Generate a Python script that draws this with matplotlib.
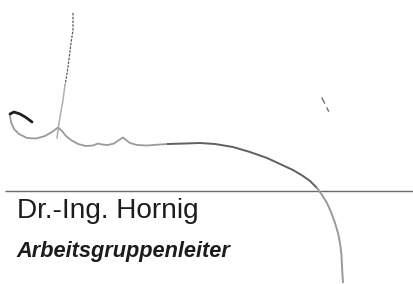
import matplotlib
matplotlib.use("Agg")
import matplotlib.pyplot as plt

# signature strokes, in pixel coordinates of the 413x284 image (y downwards)
hook_x = [10, 14, 20, 26, 32]
hook_y = [114, 112, 114, 117.5, 122]

stem_top_x = [73, 73, 71, 69.5, 68, 66.5, 65]
stem_top_y = [13, 30, 43, 55, 67, 77, 85]
stem_low_x = [65, 63, 60, 58, 57]
stem_low_y = [85, 100, 117, 130, 138]

loop_x = [10, 11, 14, 19, 27, 36, 45, 52, 58, 62, 66, 71, 78, 86, 93, 98,
          102, 108, 114, 119, 123, 126, 130, 137, 147, 160, 168]
loop_y = [115, 122, 129, 134, 138, 138.5, 136, 132, 127.5, 131, 136, 140,
          144, 146, 145.5, 143.5, 144.5, 145, 143.5, 140, 137.5, 140, 143,
          145, 145.5, 144.5, 144]

arc_x = [168, 185, 200, 215, 233, 250, 267, 280, 293, 303, 310, 317]
arc_y = [144, 143.5, 143, 144, 147, 152, 158, 164, 170, 176, 181, 188]

tail_x = [317, 322, 327, 331, 335, 338, 340, 341.5, 342, 342.5, 343]
tail_y = [188, 195, 203, 212, 223, 233, 243, 255, 267, 275, 282]

tick_x = [[322, 324.5], [327, 328.5]]
tick_y = [[98, 103], [108, 111]]

rule_x = [5, 413]
rule_y = [191, 191]

name = "Dr.-Ing. Hornig"
role = "Arbeitsgruppenleiter"

fig = plt.figure(figsize=(4.13, 2.84), dpi=100)
ax = fig.add_axes([0, 0, 1, 1])
ax.set_xlim(0, 413)
ax.set_ylim(284, 0)
ax.axis("off")

ax.plot(rule_x, rule_y, color="#6a6a6a", lw=1.0, solid_capstyle="butt")

ax.plot(stem_top_x, stem_top_y, color="#5a5a5a", lw=0.9, ls=(0, (2, 1)))
ax.plot(stem_low_x, stem_low_y, color="#b0b0b0", lw=1.1)
ax.plot(loop_x, loop_y, color="#9a9a9a", lw=1.3, solid_joinstyle="round")
ax.plot(arc_x, arc_y, color="#606060", lw=1.4, solid_joinstyle="round")
ax.plot(tail_x, tail_y, color="#9a9a9a", lw=1.4, solid_joinstyle="round")
ax.plot(hook_x, hook_y, color="#202020", lw=2.0, solid_capstyle="round")
for xs, ys in zip(tick_x, tick_y):
    ax.plot(xs, ys, color="#707070", lw=1.0)

ax.text(17, 217.7, name, fontsize=20.2, family="Liberation Sans",
        color="#1c1c1c", va="baseline", ha="left")
ax.text(16, 256.7, role, fontsize=15.7, family="Liberation Sans",
        style="italic", weight="bold", color="#1c1c1c",
        va="baseline", ha="left")

fig.savefig("out.png", dpi=100, facecolor="white")
